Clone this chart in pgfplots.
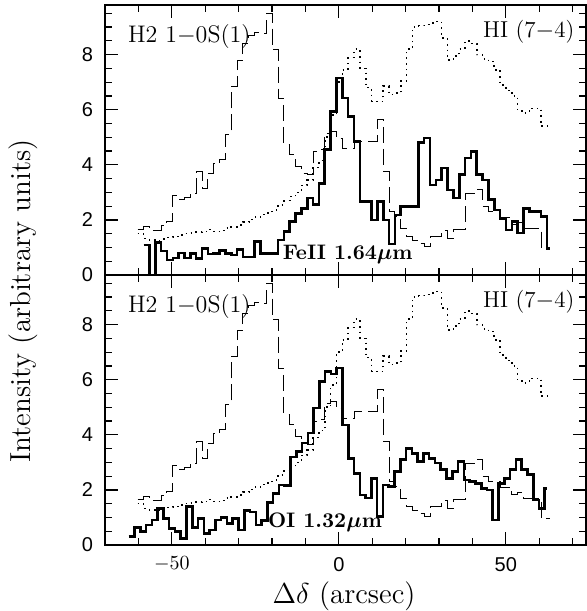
\documentclass[border=0pt]{standalone}
\usepackage{pgfplots}
\pgfplotsset{compat=1.18}
\usepackage{pgfplotstable}
\usepackage{fontspec}
\newfontfamily\tickfont{Liberation Sans}

\pgfplotstableread{
x y
-60.20 1.66
-58.45 1.76
-56.70 1.61
-54.95 1.62
-53.20 1.78
-51.45 1.94
-49.70 2.90
-47.95 2.75
-46.20 2.80
-44.45 2.97
-42.70 3.75
-40.95 3.15
-39.20 3.70
-37.45 4.06
-35.70 4.20
-33.95 5.10
-32.20 6.85
-30.45 7.80
-28.70 8.40
-26.95 8.70
-25.20 8.80
-23.45 8.75
-21.70 9.50
-19.95 8.18
-18.20 6.42
-16.45 4.75
-14.70 4.36
-12.95 3.94
-11.20 3.70
-9.45 3.65
-7.70 4.48
-5.95 4.55
-4.20 5.15
-2.45 5.20
-0.70 4.95
1.05 4.60
2.80 4.60
4.55 4.85
6.30 4.85
8.05 4.85
9.80 4.85
11.55 5.64
13.30 3.76
15.05 2.30
16.80 2.12
18.55 1.70
20.30 1.40
22.05 1.27
23.80 1.15
25.55 1.03
27.30 1.39
29.05 1.39
30.80 1.61
32.55 1.33
34.30 1.64
36.05 1.64
37.80 2.97
39.55 2.97
41.30 3.09
43.05 2.50
44.80 2.30
46.55 2.30
48.30 2.10
50.05 2.10
51.80 1.82
53.55 1.90
55.30 1.70
57.05 1.70
58.80 1.70
60.55 0.97
63.10 0.97
}\htwo

\pgfplotstableread{
x y
-60.20 1.50
-58.45 1.33
-56.70 1.27
-54.95 1.25
-53.20 1.30
-51.45 1.36
-49.70 1.40
-47.95 1.45
-46.20 1.50
-44.45 1.52
-42.70 1.55
-40.95 1.58
-39.20 1.65
-37.45 1.58
-35.70 1.62
-33.95 1.70
-32.20 1.75
-30.45 1.82
-28.70 1.92
-26.95 2.02
-25.20 2.10
-23.45 2.20
-21.70 2.25
-19.95 2.35
-18.20 2.55
-16.45 2.70
-14.70 2.85
-12.95 3.00
-11.20 3.25
-9.45 3.45
-7.70 3.90
-5.95 4.15
-4.20 5.00
-2.45 5.80
-0.70 7.00
1.05 7.45
2.80 7.90
4.55 8.20
6.30 7.50
8.05 6.80
9.80 6.30
11.55 6.30
13.30 6.85
15.05 6.55
16.80 6.60
18.55 7.05
20.30 8.20
22.05 9.00
23.80 9.05
25.55 9.10
27.30 9.15
29.05 9.20
30.80 8.60
32.55 7.80
34.30 7.95
36.05 8.20
37.80 8.50
39.55 8.40
41.30 8.00
43.05 7.85
44.80 7.75
46.55 7.45
48.30 6.90
50.05 6.70
51.80 6.50
53.55 5.95
55.30 5.88
57.05 6.05
58.80 6.05
60.55 5.40
62.60 5.40
}\hione

\pgfplotstableread{
x y
-58.45 1.09
-56.70 -0.50
-54.95 1.18
-53.20 0.87
-51.45 0.55
-49.70 0.62
-47.95 0.80
-46.20 0.62
-44.45 0.78
-42.70 0.60
-40.95 0.97
-39.20 0.76
-37.45 0.78
-35.70 0.90
-33.95 0.78
-32.20 0.72
-30.45 0.92
-28.70 0.66
-26.95 0.66
-25.20 1.21
-23.45 0.79
-21.70 0.79
-19.95 0.79
-18.20 1.27
-16.45 1.58
-14.70 1.94
-12.95 2.24
-11.20 2.42
-9.45 2.79
-7.70 2.55
-5.95 3.33
-4.20 4.55
-2.45 5.94
-0.70 7.15
1.05 6.42
2.80 5.76
4.55 4.85
6.30 2.67
8.05 2.67
9.80 2.00
11.55 2.67
13.30 2.00
15.05 1.13
16.80 2.18
18.55 2.48
20.30 2.48
22.05 2.48
23.80 4.80
25.55 4.97
27.30 3.27
29.05 3.45
30.80 3.88
32.55 3.09
34.30 2.79
36.05 3.64
37.80 4.24
39.55 4.48
41.30 3.64
43.05 3.45
44.80 2.73
46.55 2.36
48.30 2.06
50.05 1.64
51.80 1.94
53.55 1.52
55.30 2.42
57.05 2.30
58.80 2.30
60.55 2.12
62.30 0.97
63.10 0.97
}\feii

\pgfplotstableread{
x y
-62.90 0.30
-61.17 0.64
-59.44 0.48
-57.71 0.73
-55.98 0.91
-54.25 1.33
-52.52 0.97
-50.79 0.60
-49.06 0.48
-47.33 0.24
-45.60 1.39
-43.87 0.64
-42.14 0.97
-40.41 0.42
-38.68 0.55
-36.95 0.91
-35.22 1.00
-33.49 0.79
-31.76 0.97
-30.03 0.55
-28.30 1.25
-26.57 1.20
-24.84 0.73
-23.11 0.90
-21.38 1.54
-19.65 1.88
-17.92 2.18
-16.19 2.15
-14.46 3.20
-12.73 3.40
-11.00 3.70
-9.27 4.06
-7.54 4.97
-5.81 5.94
-4.08 6.30
-2.35 6.20
-0.62 6.42
1.11 4.36
2.84 3.15
4.57 2.60
6.30 1.82
8.03 1.70
9.76 2.42
11.49 1.03
13.22 2.18
14.95 2.12
16.68 2.67
18.41 3.10
20.14 3.50
21.87 3.33
23.60 3.03
25.33 3.33
27.06 3.15
28.79 2.97
30.52 2.73
32.25 2.42
33.98 2.67
35.71 3.03
37.44 2.36
39.17 2.30
40.90 2.24
42.63 2.06
44.36 2.00
46.09 0.91
47.82 2.24
49.55 2.42
51.28 2.73
53.01 3.10
54.74 2.73
56.47 2.55
58.20 1.64
59.93 1.33
61.66 2.06
62.40 2.06
}\oi

\pgfplotsset{
  panel/.style={
    anchor=south west, scale only axis,
    width=240.5pt, height=135pt,
    xmin=-70, xmax=74, ymin=0, ymax=9.8,
    axis line style={line width=0.65pt},
    tick align=inside, xtick pos=both, ytick pos=both,
    xtick={-50,0,50},
    minor xtick={-70,-60,-40,-30,-20,-10,10,20,30,40,60,70},
    ytick={0,2,4,6,8},
    minor ytick={0.5,1,1.5,2.5,3,3.5,4.5,5,5.5,6.5,7,7.5,8.5,9,9.5},
    yticklabels={0,2,4,6,8},
    major tick length=6.5pt, minor tick length=3.5pt,
    every tick/.style={line width=0.6pt, black},
    tick label style={font=\tickfont\fontsize{10}{12}\selectfont},
    xticklabel style={yshift=-2.5pt},
    yticklabel style={xshift=-2.5pt},
    clip=true,
  },
  h2/.style={black, line width=0.5pt, dash pattern=on 8pt off 3pt, const plot},
  hi/.style={black, line width=0.8pt, dash pattern=on 0.8pt off 2pt, const plot},
  thk/.style={black, line width=1.3pt, const plot},
}
\tikzset{lab/.style={font=\fontsize{11.5}{13}\selectfont, inner sep=0pt, anchor=west}}

\begin{document}
\begin{tikzpicture}[x=1pt,y=1pt]
\path[use as bounding box] (0,0) rectangle (293.5,305.5);

\begin{axis}[panel, at={(52.5pt,168pt)}, xticklabels={}]
\addplot[h2] table[x=x,y=y] {\htwo};
\addplot[hi] table[x=x,y=y] {\hione};
\addplot[thk] table[x=x,y=y] {\feii};
\node[lab, font=\fontsize{12}{14}\selectfont] at (axis cs:-63.2,8.64) {H2 1$-$0S(1)};
\node[lab, font=\fontsize{10.5}{12}\selectfont\bfseries\boldmath] at (axis cs:-16.9,0.73) {FeII 1.64$\mu$m};
\node[lab] at (axis cs:43.1,8.82) {HI (7$-$4)};
\end{axis}

\begin{axis}[panel, at={(52.5pt,33pt)}, xticklabels={$-50$,0,50}]
\addplot[h2] table[x=x,y=y] {\htwo};
\addplot[hi] table[x=x,y=y] {\hione};
\addplot[thk] table[x=x,y=y] {\oi};
\node[lab, font=\fontsize{12}{14}\selectfont] at (axis cs:-63.2,8.64) {H2 1$-$0S(1)};
\node[lab] at (axis cs:43.1,8.82) {HI (7$-$4)};
\node[lab, font=\fontsize{10.5}{12}\selectfont\bfseries\boldmath] at (axis cs:-21.3,0.82) {OI 1.32$\mu$m};
\end{axis}

\node[rotate=90, font=\fontsize{14.5}{16}\selectfont] at (11.5,155) {Intensity (arbitrary units)};
\node[anchor=base, font=\fontsize{14.5}{16}\selectfont] at (172,3.5) {$\Delta\delta$ (arcsec)};
\end{tikzpicture}
\end{document}
